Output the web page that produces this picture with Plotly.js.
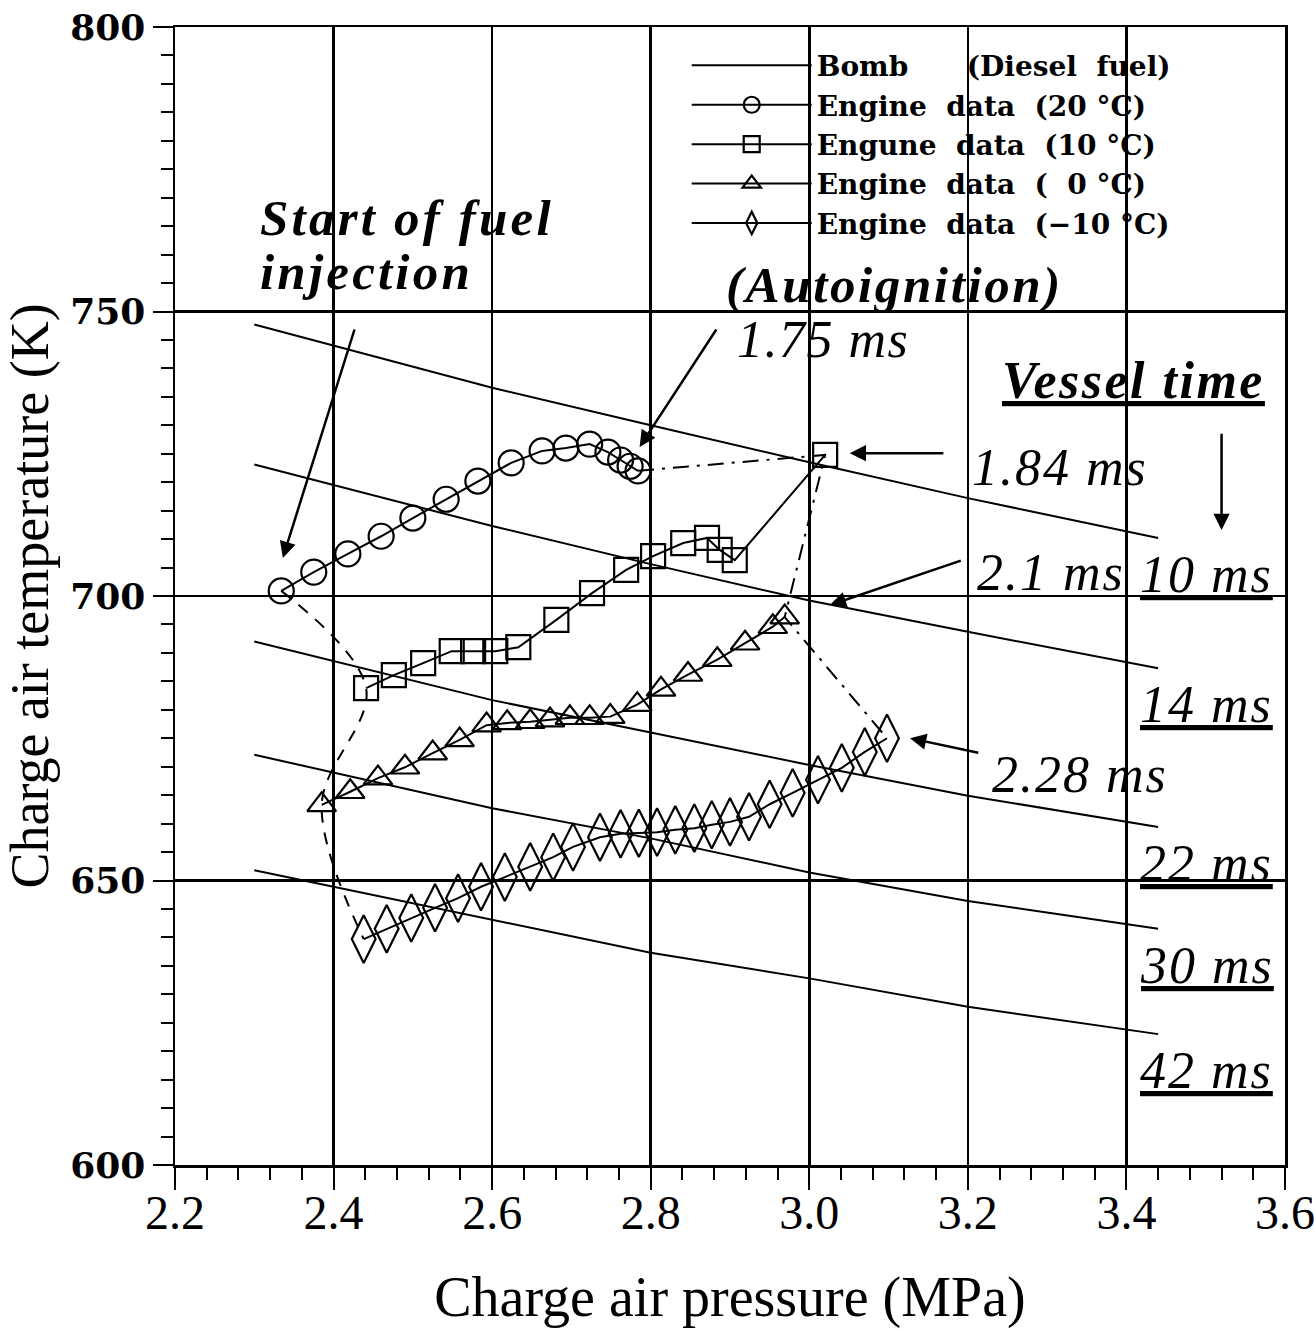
<!DOCTYPE html>
<html><head><meta charset="utf-8">
<script src="https://cdn.plot.ly/plotly-3.0.1.min.js"></script>
<style>html,body{margin:0;padding:0;background:#fff}</style>
</head><body>
<div id="chart" style="width:1314px;height:1329px"></div>
<script>
// ---- data ----
const circleX = [2.334, 2.375, 2.418, 2.460, 2.500, 2.542, 2.582, 2.624, 2.663, 2.693, 2.723, 2.746, 2.762, 2.774, 2.784];
const circleY = [700.9, 704.2, 707.4, 710.5, 713.7, 717.0, 720.2, 723.4, 725.5, 726.0, 726.7, 725.3, 723.9, 722.8, 722.0];

const squareX = [2.441, 2.476, 2.513, 2.549, 2.576, 2.604, 2.633, 2.681, 2.726, 2.769, 2.803, 2.841, 2.871, 2.887, 2.906, 3.020];
const squareY = [683.8, 686.1, 688.2, 690.3, 690.3, 690.3, 691.0, 695.8, 700.5, 704.6, 707.0, 709.3, 710.2, 708.1, 706.3, 724.8];

const triX = [2.385, 2.421, 2.456, 2.490, 2.525, 2.559, 2.593, 2.619, 2.648, 2.673, 2.698, 2.723, 2.749, 2.783, 2.813, 2.847, 2.884, 2.919, 2.954, 2.969];
const triY = [663.3, 665.6, 668.0, 669.9, 672.4, 674.7, 677.3, 677.7, 677.9, 678.2, 678.6, 678.6, 678.8, 680.9, 683.6, 686.2, 688.8, 691.7, 694.6, 696.3];

const diaX = [2.438, 2.467, 2.498, 2.528, 2.557, 2.586, 2.616, 2.648, 2.677, 2.702, 2.736, 2.762, 2.785, 2.808, 2.831, 2.855, 2.877, 2.900, 2.924, 2.950, 2.979, 3.011, 3.041, 3.070, 3.098];
const diaY = [639.7, 641.5, 643.4, 645.2, 646.9, 648.9, 650.6, 652.4, 654.1, 655.9, 657.6, 658.2, 658.3, 658.5, 658.9, 659.2, 659.8, 660.3, 661.2, 663.4, 665.4, 667.7, 669.8, 672.6, 675.0];

const bombX  = [2.30, 2.60, 2.80, 3.00, 3.20, 3.44];
const bomb10 = [747.7, 736.6, 730.0, 723.5, 717.2, 710.2];
const bomb14 = [723.1, 712.3, 705.6, 699.2, 693.7, 687.3];
const bomb22 = [692.0, 681.7, 676.0, 670.3, 664.9, 659.4];
const bomb30 = [672.1, 662.7, 657.4, 651.4, 646.4, 641.5];
const bomb42 = [651.8, 643.1, 637.3, 632.8, 627.8, 623.0];
const bombLabels = ['10 ms', '14 ms', '22 ms', '30 ms', '42 ms'];

const seriesNames = [
  'Bomb\u00a0\u00a0\u00a0\u00a0\u00a0\u00a0(Diesel\u00a0\u00a0fuel)',
  'Engine\u00a0\u00a0data\u00a0\u00a0(20\u00a0°C)',
  'Engune\u00a0\u00a0data\u00a0\u00a0(10\u00a0°C)',
  'Engine\u00a0\u00a0data\u00a0\u00a0(\u00a0\u00a00\u00a0°C)',
  'Engine\u00a0\u00a0data\u00a0\u00a0(\u221210\u00a0°C)'
];

const xTickVals = [2.2, 2.4, 2.6, 2.8, 3.0, 3.2, 3.4, 3.6];
const xTickText = ['2.2', '2.4', '2.6', '2.8', '3.0', '3.2', '3.4', '3.6'];
const yTickVals = [600, 650, 700, 750, 800];
const yTickText = ['600', '650', '700', '750', '800'];

// ---- traces ----
const bombSeries = [bomb10, bomb14, bomb22, bomb30, bomb42];
const traces = [];
bombSeries.forEach((ys, i) => {
  traces.push({x: bombX, y: ys, mode: 'lines', type: 'scatter',
    line: {color: 'black', width: 2}, name: seriesNames[0],
    legendgroup: 'bomb', showlegend: i === 0, hoverinfo: 'skip'});
});
const mk = (sym, size) => ({symbol: sym, size: size, color: 'black', line: {width: 2.2, color: 'black'}});
const series = [
  [circleX, circleY, 'circle-open', 25],
  [squareX, squareY, 'square-open', 24],
  [triX, triY, 'triangle-up-open', 25],
  [diaX, diaY, 'diamond-tall-open', 34]
];
series.forEach((s, i) => {
  traces.push({x: s[0], y: s[1], mode: 'lines+markers', type: 'scatter',
    line: {color: 'black', width: 2}, marker: mk(s[2], s[3]), name: seriesNames[i + 1]});
});
// start-of-injection connector (first points) and autoignition connector (last points)
traces.push({x: series.map(s => s[0][0]), y: series.map(s => s[1][0]), mode: 'lines', type: 'scatter',
  line: {color: 'black', width: 2, dash: '12px,10px', shape: 'spline'}, showlegend: false});
traces.push({x: series.map(s => s[0][s[0].length - 1]), y: series.map(s => s[1][s[1].length - 1]), mode: 'lines', type: 'scatter',
  line: {color: 'black', width: 2, dash: '16px,8px,3px,8px'}, showlegend: false});

// ---- annotations ----
const serif = 'Liberation Serif, Times New Roman, serif';
const sp = (t, px) => '<span style="letter-spacing:' + px + 'px">' + t + '</span>';
const txt = (x, y, text, xanchor, size) => ({xref: 'paper', yref: 'paper', x: x, y: y, text: text,
  xanchor: xanchor || 'left', yanchor: 'middle', showarrow: false, font: {family: serif, size: size || 52, color: 'black'}});
const arrow = (hx, hy, tx, ty) => ({xref: 'x', yref: 'y', axref: 'x', ayref: 'y', x: hx, y: hy, ax: tx, ay: ty,
  text: '', showarrow: true, arrowhead: 2, arrowsize: 1.3, arrowwidth: 2.5, arrowcolor: 'black'});

const annotations = [
  txt(0.0748, 0.832, sp('<b><i>Start of fuel</i></b>', 3.2), 'left', 51),
  txt(0.0748, 0.785, sp('<b><i>injection</i></b>', 3.2), 'left', 51),
  txt(0.6486, 0.7733, sp('<b><i>(Autoignition)</i></b>', 2.6), 'center', 51),
  txt(0.5045, 0.725, sp('<i>1.75 ms</i>', 1.5)),
  txt(0.743, 0.6898, sp('<b><i><u>Vessel time</u></i></b>', 2.5), 'left', 52),
  txt(0.716, 0.6125, sp('<i>1.84 ms</i>', 2)),
  txt(0.7207, 0.521, sp('<i>2.1 ms</i>', 2)),
  txt(0.734, 0.343, sp('<i>2.28 ms</i>', 2)),
  arrow(2.336, 706.7, 2.427, 747.1),
  arrow(2.786, 726.2, 2.884, 747.1),
  arrow(3.520, 711.6, 3.520, 728.8),
  arrow(3.051, 725.1, 3.171, 725.1),
  arrow(3.026, 698.4, 3.193, 706.3),
  arrow(3.127, 675.0, 3.215, 672.4)
];
bombSeries.forEach((ys, i) => {
  annotations.push({xref: 'x', yref: 'y', x: 3.415, y: ys[ys.length - 1], yanchor: 'top', xanchor: 'left', yshift: -6,
    text: sp('<i><u>' + bombLabels[i] + '</u></i>', 2), showarrow: false, font: {family: serif, size: 52, color: 'black'}});
});

const layout = {
  width: 1314, height: 1329,
  margin: {l: 175, r: 29, t: 27, b: 164},
  paper_bgcolor: 'white', plot_bgcolor: 'white',
  showlegend: true,
  legend: {x: 0.461, y: 0.988, xanchor: 'left', yanchor: 'top', bgcolor: 'rgba(0,0,0,0)',
    font: {family: 'DejaVu Serif', size: 28, color: 'black', weight: 'bold'}, itemwidth: 120,
    tracegroupgap: 0},
  xaxis: {range: [2.2, 3.6], tickmode: 'array', tickvals: xTickVals, ticktext: xTickText,
    ticks: 'outside', ticklen: 22, tickwidth: 2, tickcolor: 'black', ticklabeloverflow: 'allow',
    ticklabelstandoff: -18,
    showgrid: true, gridcolor: 'black', gridwidth: 2.5, zeroline: false,
    showline: true, linecolor: 'black', linewidth: 2.5, mirror: true,
    minor: {tickmode: 'linear', tick0: 2.2, dtick: 0.04, ticks: 'outside', ticklen: 12, tickwidth: 2, tickcolor: 'black', showgrid: false},
    tickfont: {family: serif, size: 48, color: 'black'},
    title: {text: 'Charge air pressure (MPa)', font: {family: serif, size: 56, color: 'black'}, standoff: 52},
    automargin: false},
  yaxis: {range: [600, 800], tickmode: 'array', tickvals: yTickVals, ticktext: yTickText,
    ticks: 'outside', ticklen: 20, tickwidth: 2, tickcolor: 'black',
    showgrid: true, gridcolor: 'black', gridwidth: 2.5, zeroline: false,
    showline: true, linecolor: 'black', linewidth: 2.5, mirror: true,
    minor: {tickmode: 'linear', tick0: 600, dtick: 5, ticks: 'outside', ticklen: 12, tickwidth: 2, tickcolor: 'black', showgrid: false},
    tickfont: {family: 'DejaVu Serif', size: 36, color: 'black', weight: 'bold'},
    title: {text: 'Charge air temperature (K)', font: {family: serif, size: 54, color: 'black'}, standoff: 8},
    automargin: false},
  annotations: annotations
};
Plotly.newPlot('chart', traces, layout, {staticPlot: true});
</script>
</body></html>
